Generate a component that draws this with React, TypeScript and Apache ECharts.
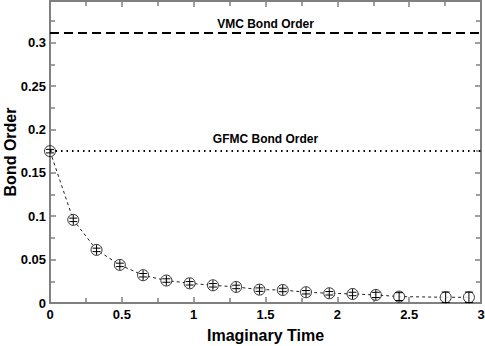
import React, { useEffect, useRef } from "react";
import * as echarts from "echarts";

const times = [0, 0.162, 0.324, 0.486, 0.648, 0.81, 0.972, 1.134, 1.296, 1.458, 1.62, 1.782, 1.944, 2.106, 2.268, 2.43, 2.754, 2.916];
const bondOrder = [0.175, 0.0958, 0.0612, 0.0439, 0.032, 0.0259, 0.0227, 0.0204, 0.0185, 0.0154, 0.015, 0.0124, 0.0112, 0.0104, 0.0093, 0.0074, 0.0066, 0.0066];
const errors = [0.002, 0.002, 0.002, 0.002, 0.002, 0.002, 0.002, 0.002, 0.002, 0.002, 0.002, 0.002, 0.002, 0.002, 0.003, 0.0045, 0.006, 0.006];
const vmcBondOrder = 0.311;
const gfmcBondOrder = 0.175;
const xTicks = [0, 0.5, 1, 1.5, 2, 2.5, 3];
const yTicks = [0, 0.05, 0.1, 0.15, 0.2, 0.25, 0.3];

const FONT = "'Liberation Sans', Arial, Helvetica, sans-serif";
const AXIS_COLOR = "#808080";

export default function App() {
  const ref = useRef<HTMLDivElement>(null);
  useEffect(() => {
    document.body.style.margin = "0";
    if (!ref.current) return;
    const chart = echarts.init(ref.current, null, { renderer: "svg" });
    const pts = times.map((t, i) => [t, bondOrder[i]]);
    const errData = times.map((t, i) => [t, bondOrder[i], errors[i]]);
    const axisLine = { show: true, onZero: false, lineStyle: { color: AXIS_COLOR, width: 2 } };
    const tickStyle = { color: AXIS_COLOR, width: 1.5 };
    const fmtY = (v: number) => {
      const r = Math.round(v / 0.05);
      if (Math.abs(v / 0.05 - r) > 1e-6) return "";
      return String(Number(v.toFixed(3)));
    };
    const fmtX = (v: number) => {
      const r = Math.round(v / 0.5);
      if (Math.abs(v / 0.5 - r) > 1e-6) return "";
      return String(Number(v.toFixed(2)));
    };
    const xCommon = {
      type: "value" as const,
      min: xTicks[0],
      max: xTicks[xTicks.length - 1],
      interval: 0.5,
      splitLine: { show: false },
      axisLine,
      axisTick: { show: true, inside: true, length: 6, lineStyle: tickStyle },
      minorTick: { show: true, splitNumber: 2, length: 5, lineStyle: tickStyle },
    };
    const yCommon = {
      type: "value" as const,
      min: yTicks[0],
      max: 0.348,
      interval: 0.05,
      splitLine: { show: false },
      axisLine,
      axisTick: { show: true, inside: true, length: 6, lineStyle: tickStyle },
      minorTick: { show: true, splitNumber: 2, length: 5, lineStyle: tickStyle },
    };
    chart.setOption({
      animation: false,
      grid: { left: 50, right: 4, top: 1, bottom: 43, containLabel: false, outerBoundsMode: "none" },
      xAxis: [
        {
          ...xCommon,
          position: "bottom",
          name: "Imaginary Time",
          nameLocation: "middle",
          nameGap: 24,
          nameMoveOverlap: false,
          nameTextStyle: { fontFamily: FONT, fontWeight: "bold", fontSize: 16, color: "#000" },
          axisLabel: { formatter: fmtX, margin: 5, fontFamily: FONT, fontWeight: "bold", fontSize: 13, color: "#000" },
        },
        { ...xCommon, position: "top", axisLabel: { show: false } },
      ],
      yAxis: [
        {
          ...yCommon,
          position: "left",
          name: "Bond Order",
          nameLocation: "middle",
          nameGap: 32,
          nameMoveOverlap: false,
          nameTextStyle: { fontFamily: FONT, fontWeight: "bold", fontSize: 16, color: "#000" },
          axisLabel: { formatter: fmtY, margin: 4, fontFamily: FONT, fontWeight: "bold", fontSize: 13, color: "#000" },
        },
        { ...yCommon, position: "right", axisLabel: { show: false } },
      ],
      series: [
        {
          type: "line",
          data: pts,
          symbol: "none",
          lineStyle: { color: "#222", width: 1, type: [3, 3] },
          z: 2,
          markLine: {
            silent: true,
            symbol: "none",
            precision: 5,
            data: [
              {
                yAxis: vmcBondOrder,
                lineStyle: { color: "#000", width: 2, type: [9, 5] },
                label: {
                  show: true,
                  formatter: "VMC Bond Order",
                  position: "insideMiddleTop",
                  distance: 3,
                  fontFamily: FONT,
                  fontWeight: "bold",
                  fontSize: 12,
                  color: "#000",
                },
              },
              {
                yAxis: gfmcBondOrder,
                lineStyle: { color: "#000", width: 2, type: [1.5, 4] },
                label: {
                  show: true,
                  formatter: "GFMC Bond Order",
                  position: "insideMiddleTop",
                  distance: 6,
                  fontFamily: FONT,
                  fontWeight: "bold",
                  fontSize: 12,
                  color: "#000",
                },
              },
            ],
          },
        },
        {
          type: "scatter",
          data: pts,
          symbol: "circle",
          symbolSize: 11,
          itemStyle: { color: "#fff", borderColor: "#000", borderWidth: 1 },
          z: 3,
        },
        {
          type: "custom",
          data: errData,
          encode: { x: 0, y: 1 },
          z: 4,
          renderItem: (params: any, api: any) => {
            const x = api.value(0);
            const y = api.value(1);
            const e = api.value(2);
            const c = api.coord([x, y]);
            const top = api.coord([x, y + e]);
            const bot = api.coord([x, y - e]);
            const r = 5;
            const y1 = Math.min(top[1], c[1] - r);
            const y2 = Math.max(bot[1], c[1] + r);
            const half = 4;
            const st = { stroke: "#000", lineWidth: 1 };
            return {
              type: "group",
              children: [
                { type: "line", shape: { x1: c[0], y1, x2: c[0], y2 }, style: st },
                { type: "line", shape: { x1: c[0] - half, y1: top[1], x2: c[0] + half, y2: top[1] }, style: st },
                { type: "line", shape: { x1: c[0] - half, y1: bot[1], x2: c[0] + half, y2: bot[1] }, style: st },
              ],
            };
          },
        },
      ],
    });
    return () => chart.dispose();
  }, []);
  return <div ref={ref} style={{ width: 485, height: 346 }} />;
}
